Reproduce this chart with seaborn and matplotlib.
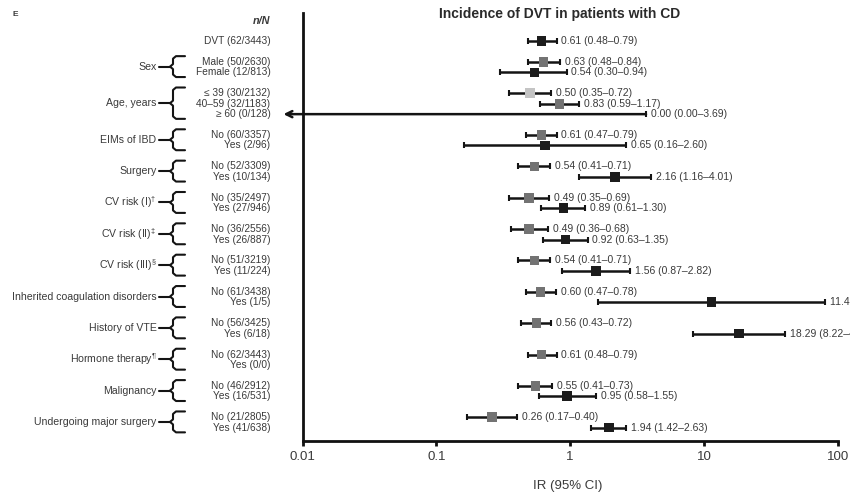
import numpy as np
import pandas as pd
import matplotlib
matplotlib.use("Agg")
import matplotlib.pyplot as plt
import seaborn as sns
from matplotlib.transforms import blended_transform_factory

# Subgroup structure and counts
groups = ["", "Sex", "Sex", "Age, years", "Age, years", "Age, years",
          "EIMs of IBD", "EIMs of IBD", "Surgery", "Surgery",
          r"CV risk (I)$^{\dagger}$", r"CV risk (I)$^{\dagger}$",
          r"CV risk (II)$^{\ddagger}$", r"CV risk (II)$^{\ddagger}$",
          r"CV risk (III)$^{\S}$", r"CV risk (III)$^{\S}$",
          "Inherited coagulation disorders", "Inherited coagulation disorders",
          "History of VTE", "History of VTE",
          r"Hormone therapy$^{\P}$", r"Hormone therapy$^{\P}$",
          "Malignancy", "Malignancy",
          "Undergoing major surgery", "Undergoing major surgery"]
row_labels = ["DVT (62/3443)", "Male (50/2630)", "Female (12/813)",
              "\u2264 39 (30/2132)", "40\u201359 (32/1183)", "\u2265 60 (0/128)",
              "No (60/3357)", "Yes (2/96)", "No (52/3309)", "Yes (10/134)",
              "No (35/2497)", "Yes (27/946)", "No (36/2556)", "Yes (26/887)",
              "No (51/3219)", "Yes (11/224)", "No (61/3438)", "Yes (1/5)",
              "No (56/3425)", "Yes (6/18)", "No (62/3443)", "Yes (0/0)",
              "No (46/2912)", "Yes (16/531)", "No (21/2805)", "Yes (41/638)"]

# Incidence rates with 95% CI (NaN = not estimable)
ir = [0.61, 0.63, 0.54, 0.50, 0.83, 0.00, 0.61, 0.65, 0.54, 2.16, 0.49, 0.89,
      0.49, 0.92, 0.54, 1.56, 0.60, 11.42, 0.56, 18.29, 0.61, np.nan,
      0.55, 0.95, 0.26, 1.94]
ci_lo = [0.48, 0.48, 0.30, 0.35, 0.59, 0.00, 0.47, 0.16, 0.41, 1.16, 0.35, 0.61,
         0.36, 0.63, 0.41, 0.87, 0.47, 1.61, 0.43, 8.22, 0.48, np.nan,
         0.41, 0.58, 0.17, 1.42]
ci_hi = [0.79, 0.84, 0.94, 0.72, 1.17, 3.69, 0.79, 2.60, 0.71, 4.01, 0.69, 1.30,
         0.68, 1.35, 0.71, 2.82, 0.78, 80.29, 0.72, 40.69, 0.79, np.nan,
         0.73, 1.55, 0.40, 2.63]
shade = ["all", "ref", "sub", "young", "ref", "sub",
         "ref", "sub", "ref", "sub", "ref", "sub", "ref", "sub", "ref", "sub",
         "ref", "sub", "ref", "sub", "ref", "sub", "ref", "sub", "ref", "sub"]

xticks = [0.01, 0.1, 1, 10, 100]
xtick_labels = ["0.01", "0.1", "1", "10", "100"]

# Vertical layout: one unit between rows of a group, two between groups
pos = []
p = 0
for i, g in enumerate(groups):
    if i > 0:
        p += 1 if g == groups[i - 1] else 2
    pos.append(p)

df = pd.DataFrame({"group": groups, "label": row_labels, "ir": ir,
                   "lo": ci_lo, "hi": ci_hi, "shade": shade, "pos": pos})

sns.set_theme(style="white")
plt.rcParams["font.family"] = ["Liberation Sans", "DejaVu Sans"]
plt.rcParams["mathtext.fontset"] = "custom"
plt.rcParams["mathtext.rm"] = "Liberation Sans"
plt.rcParams["mathtext.it"] = "Liberation Sans:italic"
plt.rcParams["mathtext.bf"] = "Liberation Sans:bold"

W, H = 850, 495
fig = plt.figure(figsize=(W / 100, H / 100), dpi=100)
x0, x1, ytop, ybot = 302.7, 837.7, 13, 441
ax = fig.add_axes([x0 / W, 1 - ybot / H, (x1 - x0) / W, (ybot - ytop) / H])

row0_px, unit_px = 41, 10.45
ax.set_xscale("log")
ax.set_xlim(0.01, 100)
ax.set_ylim((ybot - row0_px) / unit_px, (ytop - row0_px) / unit_px)

line_col = "#141414"
text_col = "#3a3a3a"
palette = {"all": "#1c1c1c", "ref": "#737373", "sub": "#1c1c1c", "young": "#c4c4c4"}

est = df[df["ir"] > 0]
ax.errorbar(est["ir"], est["pos"],
            xerr=[est["ir"] - est["lo"], est["hi"] - est["ir"]],
            fmt="none", ecolor=line_col, elinewidth=1.8, capsize=2.3,
            capthick=1.5, zorder=2)
sns.scatterplot(data=est, x="ir", y="pos", hue="shade", palette=palette,
                marker="s", s=48, linewidth=0, legend=False, ax=ax, zorder=3)

# Rows with a zero lower bound run off the log axis: draw an arrow instead
ytrans_ax = blended_transform_factory(ax.transAxes, ax.transData)
zero = df[df["lo"] == 0]
for _, r in zero.iterrows():
    ax.annotate("", xy=(-0.036, r["pos"]), xycoords=ytrans_ax,
                xytext=(r["hi"], r["pos"]), textcoords="data",
                arrowprops=dict(arrowstyle="->", lw=1.8, color=line_col,
                                shrinkA=0, shrinkB=0, mutation_scale=11),
                annotation_clip=False, zorder=2)
    ax.plot([r["hi"]], [r["pos"]], marker="|", ms=4.6, mew=1.5,
            color=line_col, zorder=2)

# Value labels
for _, r in df.dropna(subset=["ir"]).iterrows():
    ax.annotate(f"{r['ir']:.2f} ({r['lo']:.2f}\u2013{r['hi']:.2f})",
                xy=(r["hi"], r["pos"]), xytext=(3.5, 0),
                textcoords="offset points", ha="left", va="center",
                fontsize=7.5, color=text_col, annotation_clip=False)

# Axes styling
ax.set_xticks(xticks)
ax.set_xticklabels(xtick_labels)
ax.xaxis.set_minor_locator(matplotlib.ticker.NullLocator())
ax.set_yticks([])
ax.set_xlabel("")
ax.set_ylabel("")
for s in ["top", "right"]:
    ax.spines[s].set_visible(False)
for s in ["left", "bottom"]:
    ax.spines[s].set_linewidth(2)
    ax.spines[s].set_color("#111111")
ax.tick_params(axis="x", bottom=True, length=3.5, width=2, color="#111111",
               labelsize=9.5, labelcolor=text_col, pad=4)

# Left-hand row and group labels
ytrans_fig = blended_transform_factory(fig.transFigure, ax.transData)
for _, r in df.iterrows():
    ax.text(270.5 / W, r["pos"], r["label"], transform=ytrans_fig,
            ha="right", va="center", fontsize=7.3, color=text_col, clip_on=False)

half = 0.24
for g, sub in df[df["group"] != ""].groupby("group", sort=False):
    top = sub["pos"].min() - 0.55
    bot = sub["pos"].max() + 0.45
    mid = (top + bot) / 2
    xs = np.array([185, 176, 173, 173, 170, 173, 173, 176, 185]) / W
    ys = [top, top, top + half, mid - half, mid, mid + half, bot - half, bot, bot]
    ax.plot(xs, ys, color=line_col, lw=1.5, transform=ytrans_fig, clip_on=False,
            solid_joinstyle="round")
    ax.plot(np.array([159, 170]) / W, [mid, mid], color=line_col, lw=1.5,
            transform=ytrans_fig, clip_on=False)
    ax.text(156.5 / W, mid, g, transform=ytrans_fig, ha="right", va="center",
            fontsize=7.6, color=text_col, clip_on=False)

# Headings
fig.text(270.5 / W, 1 - 21 / H, "n/N", ha="right", va="center", fontsize=7.8,
         fontweight="bold", fontstyle="italic", color=text_col)
fig.text(15 / W, 1 - 14 / H, "E", ha="center", va="center", fontsize=6,
         fontweight="bold", color=text_col)
fig.text(560 / W, 1 - 14 / H, "Incidence of DVT in patients with CD",
         ha="center", va="center", fontsize=10, fontweight="bold", color="#2a2a2a")
fig.text(568 / W, 1 - 486 / H, "IR (95% CI)", ha="center", va="center",
         fontsize=9.5, color=text_col)

fig.savefig("out.png", dpi=100)
